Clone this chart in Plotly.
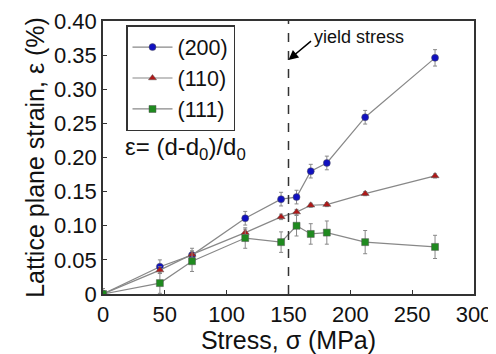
import plotly.graph_objects as go

stress = [0, 46, 72, 115, 144, 156.5, 168, 181, 212, 268.5]
strain_200 = [0, 0.040, 0.057, 0.111, 0.139, 0.142, 0.180, 0.192, 0.259, 0.346]
strain_110 = [0, 0.035, 0.058, 0.090, 0.113, 0.120, 0.130, 0.131, 0.147, 0.173]
strain_111 = [0, 0.016, 0.048, 0.082, 0.076, 0.100, 0.088, 0.090, 0.076, 0.069]
err_200 = [0.005, 0.01, 0.01, 0.01, 0.01, 0.01, 0.01, 0.01, 0.01, 0.012]
err_110 = [0.003, 0.005, 0.005, 0.005, 0.004, 0.004, 0.003, 0.003, 0.003, 0.003]
err_111 = [0.008, 0.015, 0.015, 0.015, 0.015, 0.015, 0.015, 0.017, 0.017, 0.017]

x_ticks = [0, 50, 100, 150, 200, 250, 300]
y_ticks = [0, 0.05, 0.10, 0.15, 0.20, 0.25, 0.30, 0.35, 0.40]
y_ticklabels = ["0", "0.05", "0.10", "0.15", "0.20", "0.25", "0.30", "0.35", "0.40"]

series = [
    ("(200)", strain_200, err_200, "#1010c0", "circle", 7),
    ("(110)", strain_110, err_110, "#b01818", "triangle-up", 7),
    ("(111)", strain_111, err_111, "#1f8a1f", "square", 7),
]

fig = go.Figure()
for name, ys, es, col, sym, sz in series:
    fig.add_trace(go.Scatter(
        x=stress, y=ys, name=name, mode="lines+markers",
        line=dict(color="#888888", width=1.2),
        marker=dict(color=col, symbol=sym, size=sz, line=dict(width=0.5, color="#555555")),
        error_y=dict(type="data", array=es, visible=True, color="#888888", thickness=1, width=2),
    ))

fig.add_shape(type="line", x0=150, x1=150, y0=0, y1=0.40, xref="x", yref="y",
              line=dict(color="#333333", width=1.5, dash="dash"))

fig.add_annotation(x=150, y=0.343, ax=24, ay=-20, xref="x", yref="y",
                   showarrow=True, arrowhead=2, arrowsize=1.3, arrowwidth=1.5, arrowcolor="black",
                   text="", standoff=0)
fig.add_annotation(x=169, y=0.376, xref="x", yref="y", text="yield stress", showarrow=False,
                   xanchor="left", font=dict(size=18, color="#111111"))
fig.add_annotation(x=66.5, y=0.213, xref="x", yref="y", text="ε= (d-d<sub>0</sub>)/d<sub>0</sub>",
                   showarrow=False, font=dict(size=24, color="#111111"))

axis_common = dict(showline=True, linecolor="#333333", linewidth=1.5, mirror=True,
                   ticks="inside", ticklen=4, tickcolor="#333333", showgrid=False, zeroline=False,
                   tickfont=dict(size=22, color="#111111"), automargin=False)

fig.update_xaxes(range=[0, 300], tickvals=x_ticks,
                 title=dict(text="Stress, σ (MPa)", font=dict(size=25, color="#111111"), standoff=0),
                 **axis_common)
fig.update_yaxes(range=[0, 0.40], tickvals=y_ticks, ticktext=y_ticklabels,
                 title=dict(text="Lattice plane strain, ε (%)", font=dict(size=25, color="#111111"), standoff=2),
                 **axis_common)

fig.update_layout(
    width=488, height=346,
    margin=dict(l=95, r=22, t=13, b=60),
    paper_bgcolor="white", plot_bgcolor="white",
    font=dict(family="Liberation Sans, Arial, sans-serif"),
    legend=dict(x=0.062, y=0.985, xanchor="left", yanchor="top",
                bordercolor="#333333", borderwidth=1.5, bgcolor="white",
                font=dict(size=21.5, color="#111111"), itemwidth=40, tracegroupgap=0),
)

fig.write_html("out.html")
